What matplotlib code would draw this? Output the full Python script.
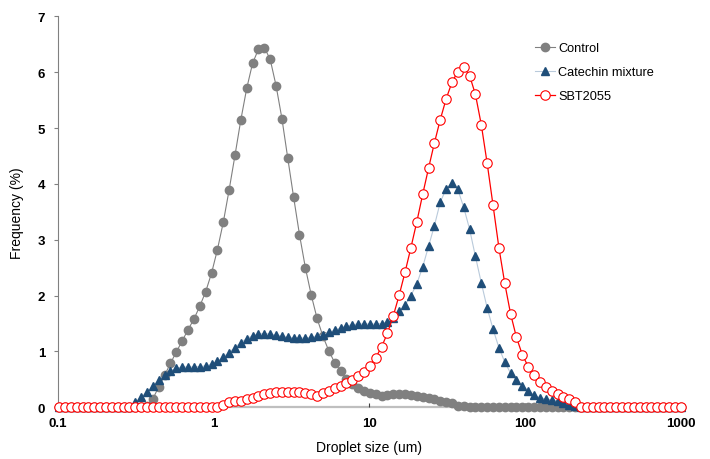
import matplotlib
matplotlib.use("Agg")
import matplotlib.pyplot as plt

plt.rcParams['font.family'] = ['Liberation Sans', 'DejaVu Sans']

sizes = [0.102, 0.1112, 0.1213, 0.1323, 0.1443, 0.1573, 0.1715, 0.1871,
         0.204, 0.2225, 0.2426, 0.2646, 0.2885, 0.3146, 0.3431, 0.3741,
         0.408, 0.4449, 0.4852, 0.5291, 0.5770, 0.6292, 0.6862, 0.7483,
         0.816, 0.8899, 0.9704, 1.058, 1.154, 1.258, 1.372, 1.497,
         1.632, 1.780, 1.941, 2.117, 2.308, 2.517, 2.745, 2.993,
         3.264, 3.559, 3.882, 4.233, 4.616, 5.034, 5.490, 5.987,
         6.528, 7.119, 7.764, 8.466, 9.233, 10.07, 10.98, 11.97,
         13.06, 14.24, 15.53, 16.93, 18.47, 20.14, 21.96, 23.95,
         26.11, 28.48, 31.06, 33.87, 36.93, 40.28, 43.92, 47.90,
         52.22, 56.95, 62.11, 67.73, 73.86, 80.55, 87.84, 95.79,
         104.4, 113.9, 124.2, 135.5, 147.7, 161.1, 175.7, 191.6,
         208.9, 227.8, 248.5, 270.9, 295.5, 322.2, 351.4, 383.2,
         417.8, 455.7, 496.9, 541.9, 591.0, 644.4, 702.8, 766.4,
         835.6, 911.3, 993.8]

control = ([0] * 15 +
           [0.03, 0.15, 0.37, 0.57, 0.79, 0.99, 1.19, 1.39, 1.58, 1.81,
            2.07, 2.40, 2.82, 3.31, 3.89, 4.51, 5.15, 5.71, 6.16, 6.41,
            6.44, 6.23, 5.76, 5.17, 4.46, 3.76, 3.09, 2.50, 2.01, 1.59,
            1.27, 1.01, 0.80, 0.65, 0.51, 0.42, 0.35, 0.30, 0.26, 0.23,
            0.21, 0.22, 0.23, 0.24, 0.23, 0.22, 0.20, 0.18, 0.16, 0.14,
            0.12, 0.10, 0.07, 0.03, 0.02] +
           [0.01] * 17 + [0] * 20)

catechin = ([0] * 13 +
            [0.09, 0.18, 0.27, 0.38, 0.48, 0.57, 0.65, 0.70, 0.72, 0.72,
             0.72, 0.73, 0.74, 0.77, 0.82, 0.90, 0.98, 1.07, 1.16, 1.23,
             1.28, 1.31, 1.32, 1.31, 1.29, 1.27, 1.25, 1.24, 1.24, 1.24,
             1.25, 1.27, 1.30, 1.34, 1.38, 1.42, 1.45, 1.48, 1.49, 1.49,
             1.49, 1.49, 1.50, 1.53, 1.60, 1.72, 1.83, 2.00, 2.21, 2.51,
             2.88, 3.25, 3.67, 3.91, 4.02, 3.90, 3.58, 3.19, 2.70, 2.23,
             1.78, 1.40, 1.07, 0.81, 0.61, 0.48, 0.39, 0.30, 0.22, 0.17,
             0.15, 0.13, 0.11, 0.08, 0.05, 0.02] +
            [0] * 18)

sbt2055 = ([0] * 28 +
           [0.05, 0.09, 0.11, 0.12, 0.14, 0.17, 0.21, 0.24, 0.26, 0.27,
            0.27, 0.27, 0.27, 0.27, 0.26, 0.23, 0.21, 0.25, 0.30, 0.34,
            0.38, 0.43, 0.49, 0.56, 0.64, 0.74, 0.89, 1.08, 1.33, 1.64,
            2.01, 2.42, 2.86, 3.32, 3.81, 4.28, 4.73, 5.15, 5.52, 5.82,
            6.01, 6.09, 5.94, 5.60, 5.06, 4.37, 3.62, 2.86, 2.22, 1.67,
            1.25, 0.94, 0.73, 0.57, 0.45, 0.36, 0.29, 0.23, 0.18, 0.14,
            0.09] +
           [0] * 18)

series_names = ["Control", "Catechin mixture", "SBT2055"]
x_ticks = [0.1, 1, 10, 100, 1000]
x_tick_labels = ["0.1", "1", "10", "100", "1000"]
y_ticks = [0, 1, 2, 3, 4, 5, 6, 7]

fig = plt.figure(figsize=(7.1, 4.6), dpi=100)
ax = fig.add_axes([0.0813, 0.1124, 0.878, 0.850])

c_gray = '#808080'
c_blue = '#1f4e79'
c_blue_line = '#b9cadb'
c_red = '#ff0000'

ax.plot(sizes, control, color=c_gray, lw=0.8, marker='o', ms=6.0,
        mfc=c_gray, mec=c_gray, clip_on=False, zorder=3, label=series_names[0])
ax.plot(sizes, catechin, color=c_blue_line, lw=0.8, marker='^', ms=6.4,
        mfc=c_blue, mec=c_blue, clip_on=False, zorder=4, label=series_names[1])
ax.plot(sizes, sbt2055, color=c_red, lw=0.9, marker='o', ms=6.8,
        mfc='white', mec=c_red, mew=0.8, clip_on=False, zorder=5, label=series_names[2])

ax.set_xscale('log')
ax.set_xlim(0.1, 1000)
ax.set_ylim(0, 7)
ax.set_xticks(x_ticks)
ax.set_xticklabels(x_tick_labels)
ax.xaxis.set_minor_locator(matplotlib.ticker.NullLocator())
ax.set_yticks(y_ticks)

for lab in ax.get_xticklabels() + ax.get_yticklabels():
    lab.set_fontweight('bold')
    lab.set_fontsize(9.5)

ax.tick_params(axis='x', direction='in', length=3, width=0.8, colors='#404040',
               labelcolor='black', pad=7)
ax.tick_params(axis='y', direction='out', length=3, width=0.8, colors='#808080',
               labelcolor='black', pad=6)

for s in ['top', 'right']:
    ax.spines[s].set_visible(False)
ax.spines['left'].set_color('#808080')
ax.spines['left'].set_linewidth(0.8)
ax.spines['bottom'].set_color('#bfbfbf')
ax.spines['bottom'].set_linewidth(1.6)
ax.spines['bottom'].set_zorder(1)

ax.set_xlabel("Droplet size (um)", fontsize=10, labelpad=8)
ax.set_ylabel("Frequency (%)", fontsize=10, labelpad=10)

leg = ax.legend(loc='upper left', bbox_to_anchor=(0.757, 0.947), frameon=False,
                fontsize=9.2, handlelength=1.6, handletextpad=0.25,
                labelspacing=0.95, borderaxespad=0)

fig.savefig("out.png", dpi=100)
